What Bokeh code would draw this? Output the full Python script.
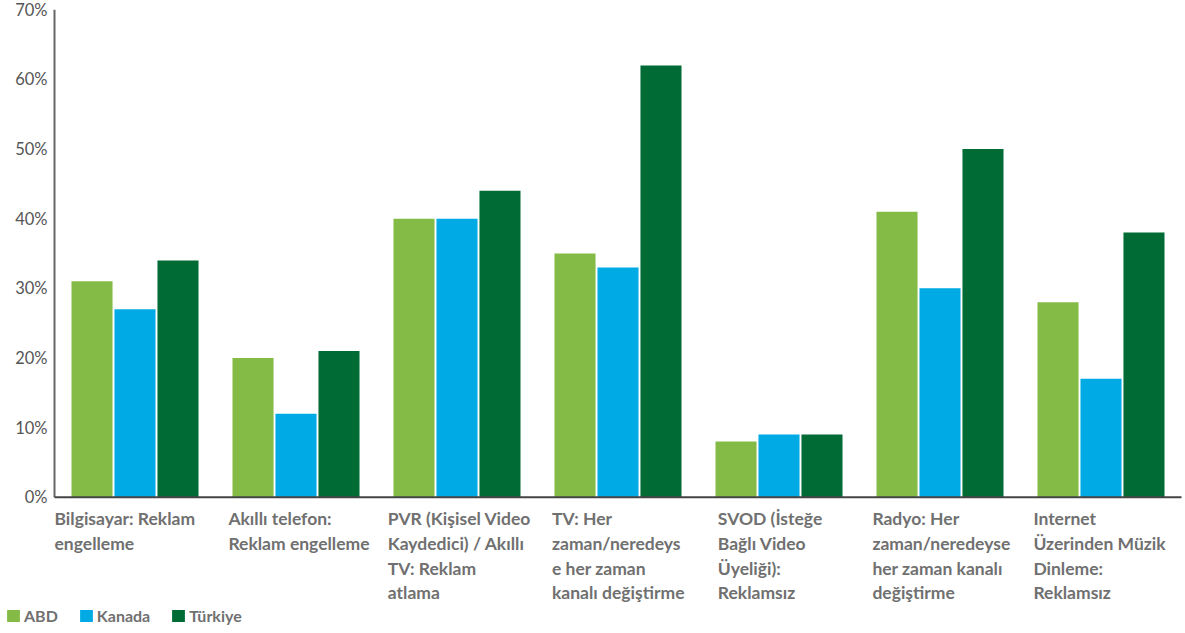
from bokeh.plotting import figure
from bokeh.models import Range1d, Legend, LegendItem, ColumnDataSource
from bokeh.core.properties import value
from bokeh.embed import file_html
from bokeh.resources import INLINE

# --- data -------------------------------------------------------------
categories = [
    "Bilgisayar: Reklam\nengelleme",
    "Akıllı telefon:\nReklam engelleme",
    "PVR (Kişisel Video\nKaydedici) / Akıllı\nTV: Reklam\natlama",
    "TV: Her\nzaman/neredeys\ne her zaman\nkanalı değiştirme",
    "SVOD (İsteğe\nBağlı Video\nÜyeliği):\nReklamsız",
    "Radyo: Her\nzaman/neredeyse\nher zaman kanalı\ndeğiştirme",
    "Internet\nÜzerinden Müzik\nDinleme:\nReklamsız",
]
series_names = ["ABD", "Kanada", "Türkiye"]
abd = [31, 20, 40, 35, 8, 41, 28]
kanada = [27, 12, 40, 33, 9, 30, 17]
turkiye = [34, 21, 44, 62, 9, 50, 38]
y_ticks = [0, 10, 20, 30, 40, 50, 60, 70]
y_tick_labels = ["0%", "10%", "20%", "30%", "40%", "50%", "60%", "70%"]

# --- styling / layout ---------------------------------------------------
colors = ["#84BB47", "#00AAE5", "#006B35"]
bar_offsets = [-0.267, 0.0, 0.267]
bar_width = 0.255
label_pad = [0.0, 0.08, 0.07, 0.09, 0.12, 0.08, 0.08]
FONT = "Lato"
TEXT_GRAY = "#707070"

n = len(categories)
W, H = 1185, 633
left_px, right_px = 54, 4          # room for the value labels / right margin
unit = (W - left_px - right_px) / n
zero_px, top_px = 496.7, 9.3       # baseline and 70% line, from the top
per_pct = (zero_px - top_px) / y_ticks[-1]

p = figure(width=W, height=H, output_backend="svg", toolbar_location=None,
           x_range=Range1d(-left_px / unit, n + right_px / unit),
           y_range=Range1d(-(H - zero_px) / per_pct, y_ticks[-1] + top_px / per_pct),
           x_axis_type=None, y_axis_type=None, min_border=0)
p.outline_line_color = None
p.grid.visible = False
p.background_fill_color = "white"
p.border_fill_color = "white"

# value axis: line from 0 to 70 and percent labels
p.segment(x0=[0], y0=[y_ticks[0]], x1=[0], y1=[y_ticks[-1]],
          line_color="#666666", line_width=2)
tick_src = ColumnDataSource(dict(x=[0] * len(y_ticks), y=y_ticks, text=y_tick_labels))
p.text(x="x", y="y", text="text", source=tick_src, x_offset=-7, y_offset=0,
       text_font=value(FONT), text_font_size="16.5px", text_color="#555555",
       text_align="right", text_baseline="middle")

# grouped bars
renderers = []
for vals, off, col in zip([abd, kanada, turkiye], bar_offsets, colors):
    src = ColumnDataSource(dict(x=[i + 0.5 + off for i in range(n)], top=vals))
    r = p.vbar(x="x", top="top", bottom=0, width=bar_width, source=src,
               fill_color=col, line_color=None)
    renderers.append(r)

# baseline
p.segment(x0=[0], y0=[0], x1=[n], y1=[0], line_color="#444444", line_width=2)

# category labels under each group
lab_src = ColumnDataSource(dict(x=[i + pad for i, pad in enumerate(label_pad)],
                                y=[0] * n, text=categories))
p.text(x="x", y="y", text="text", source=lab_src, y_offset=11,
       text_font=value(FONT), text_font_size="17.5px", text_font_style="bold",
       text_color=TEXT_GRAY, text_align="left", text_baseline="top",
       text_line_height=1.175)

legend = Legend(items=[LegendItem(label=nm, renderers=[r])
                       for nm, r in zip(series_names, renderers)],
                orientation="horizontal", location=(5, 8),
                glyph_width=16, glyph_height=15, label_standoff=3, spacing=20,
                padding=0, margin=0, background_fill_alpha=0,
                border_line_color=None, label_text_font=FONT,
                label_text_font_size="16px", label_text_font_style="bold",
                label_text_color=TEXT_GRAY)
p.add_layout(legend)

open("out.html", "w").write(file_html(p, INLINE))
